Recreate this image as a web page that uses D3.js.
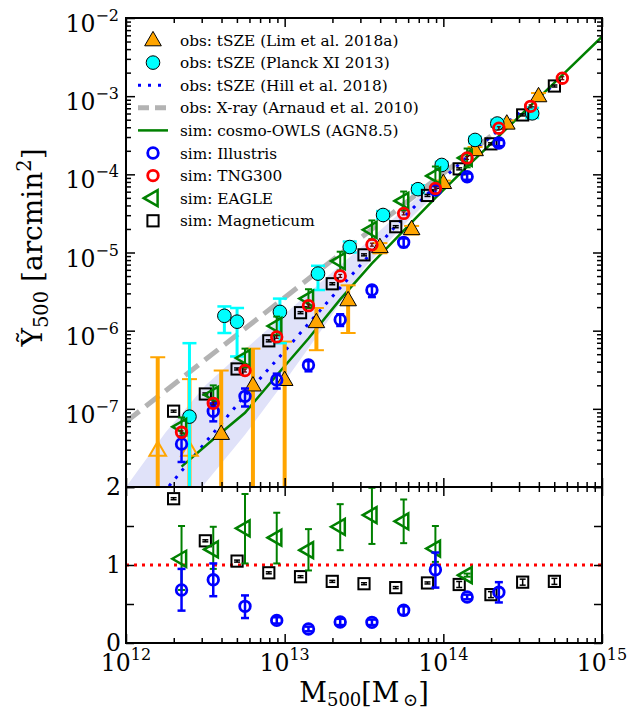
<!DOCTYPE html>
<html>
<head>
<meta charset="utf-8">
<script src="https://cdn.jsdelivr.net/npm/d3@7"></script>
<style>
  body { margin: 0; background: #fff; }
  svg text { font-family: "DejaVu Serif", serif; fill: #000; }
</style>
</head>
<body>
<div id="chart"></div>
<script>
// values: masses as log10(M500/Msun), Y500 as log10(arcmin^2)

// obs: tSZE (Lim et al. 2018a)
const limLogM = [12.2, 12.4, 12.6, 12.8, 13.0, 13.2, 13.4, 13.6, 13.8, 14.0, 14.2, 14.4, 14.6];
const limLogY = [-7.54, -7.54, -7.33, -6.71, -6.64, -5.90, -5.62, -4.94, -4.71, -4.12, -3.70, -3.36, -3.01];
const limHi   = [-6.34, -6.62, -6.51, -6.23, -6.14, -5.71, -5.42, -4.88, -4.66, -4.08, -3.65, -3.31, -2.96];
const limLo   = [-9, -9, -9, -9, -9, -6.25, -6.03, -5.01, -4.77, -4.17, -3.75, -3.41, -3.06];
const limOpen = [true, true, false, false, false, false, false, false, false, false, false, false, false];

// obs: tSZE (Planck XI 2013)
const planckLogM = [12.40, 12.62, 12.70, 12.97, 13.21, 13.41, 13.62, 13.84, 13.99, 14.20, 14.34, 14.56];
const planckLogY = [-7.10, -5.81, -5.885, -5.76, -5.27, -4.93, -4.52, -4.19, -3.88, -3.56, -3.35, -3.22];
const planckHi   = [-6.16, -5.69, -5.71, -5.59, -5.17, -4.86, -4.47, -4.14, -3.84, -3.52, -3.30, -3.15];
const planckLo   = [-9, -6.03, -6.33, -6.16, -5.48, -5.00, -4.57, -4.24, -3.93, -3.60, -3.39, -3.28];

// obs: tSZE (Hill et al. 2018) + band
const hillLogM = [12.2, 12.25, 12.5, 12.75, 13.0, 13.25, 13.5, 13.75, 14.0, 14.25, 14.5, 14.7];
const hillLogY = [-8.2, -8.04, -7.43, -6.83, -6.26, -5.68, -5.11, -4.55, -4.05, -3.60, -3.18, -2.85];
const bandLogM = [12.0, 12.25, 12.5, 12.75, 13.0, 13.25, 13.5, 13.75, 14.0];
const bandHi   = [-8.0, -7.30, -6.70, -6.24, -5.79, -5.34, -4.90, -4.45, -4.00];
const bandLo   = [-9.5, -8.80, -7.95, -7.33, -6.65, -5.94, -5.20, -4.65, -4.15];

// obs: X-ray (Arnaud et al. 2010)
const arnaudLogM = [12.0, 14.3];
const arnaudLogY = [-7.165, -3.51];

// sim: cosmo-OWLS (AGN8.5)
const owlsLogM = [12.35, 12.55, 12.75, 12.95, 13.15, 13.35, 13.55, 13.75, 13.95, 14.15, 14.35, 14.55, 14.75, 15.0];
const owlsLogY = [-7.74, -7.39, -7.05, -6.57, -6.10, -5.60, -5.14, -4.72, -4.30, -3.90, -3.51, -3.12, -2.73, -2.24];

// sim: Illustris
const illLogM = [12.35, 12.55, 12.75, 12.95, 13.15, 13.35, 13.55, 13.75, 13.95, 14.15, 14.35];
const illLogY = [-7.45, -7.03, -6.84, -6.63, -6.44, -5.86, -5.48, -4.87, -4.20, -4.03, -3.60];
const illHi   = [-7.36, -6.93, -6.74, -6.55, -6.39, -5.79, -5.43, -4.82, -4.15, -3.99, -3.56];
const illLo   = [-7.68, -7.16, -6.97, -6.74, -6.52, -5.94, -5.57, -4.93, -4.25, -4.07, -3.64];

// sim: TNG300
const tngLogM = [12.35, 12.55, 12.75, 12.95, 13.15, 13.35, 13.55, 13.75, 13.95, 14.15, 14.35, 14.55, 14.75];
const tngLogY = [-7.30, -6.93, -6.51, -6.08, -5.68, -5.30, -4.90, -4.50, -4.18, -3.79, -3.41, -3.13, -2.77];

// sim: EAGLE
const eagleLogM = [12.35, 12.55, 12.75, 12.95, 13.15, 13.35, 13.55, 13.75, 13.95, 14.15];
const eagleLogY = [-7.23, -6.82, -6.35, -5.94, -5.59, -5.11, -4.71, -4.34, -4.02, -3.79];

// sim: Magneticum
const magLogM = [12.3, 12.5, 12.7, 12.9, 13.1, 13.3, 13.5, 13.7, 13.9, 14.1, 14.3, 14.5, 14.7];
const magLogY = [-7.03, -6.81, -6.49, -6.13, -5.77, -5.40, -5.03, -4.67, -4.27, -3.93, -3.61, -3.24, -2.87];

// ratio panel
const magRatio   = [1.85, 1.31, 1.05, 0.90, 0.85, 0.79, 0.76, 0.71, 0.77, 0.75, 0.62, 0.78, 0.79];
const illRatio   = [0.68, 0.81, 0.47, 0.29, 0.18, 0.27, 0.265, 0.42, 0.94, 0.59, 0.65];
const illRatioHi = [0.95, 1.02, 0.61, 0.33, 0.21, 0.31, 0.30, 0.47, 1.16, 0.62, 0.78];
const illRatioLo = [0.415, 0.60, 0.32, 0.25, 0.15, 0.23, 0.23, 0.36, 0.71, 0.56, 0.52];
const eagleRatio   = [1.08, 1.20, 1.47, 1.35, 1.19, 1.49, 1.64, 1.56, 1.21, 0.87];
const eagleRatioHi = [1.50, 1.49, 1.91, 1.67, 1.46, 1.78, 1.99, 1.84, 1.50, 0.89];
const eagleRatioLo = [0.68, 0.95, 1.02, 1.02, 0.93, 1.19, 1.27, 1.28, 1.04, 0.85];

const xMajor = [1e12, 1e13, 1e14, 1e15];
const yMajor = [1e-8, 1e-7, 1e-6, 1e-5, 1e-4, 1e-3, 1e-2];
const yLabelExp = [-7, -6, -5, -4, -3, -2];
const xLabelExp = [12, 13, 14, 15];
const ratioTicks = [0, 0.5, 1, 1.5, 2];
const ratioLabels = [0, 1, 2];

const legendItems = [
  {kind: 'lim',    label: 'obs: tSZE (Lim et al. 2018a)'},
  {kind: 'planck', label: 'obs: tSZE (Planck XI 2013)'},
  {kind: 'hill',   label: 'obs: tSZE (Hill et al. 2018)'},
  {kind: 'arnaud', label: 'obs: X-ray (Arnaud et al. 2010)'},
  {kind: 'owls',   label: 'sim: cosmo-OWLS (AGN8.5)'},
  {kind: 'ill',    label: 'sim: Illustris'},
  {kind: 'tng',    label: 'sim: TNG300'},
  {kind: 'eagle',  label: 'sim: EAGLE'},
  {kind: 'mag',    label: 'sim: Magneticum'}
];

const W = 637, H = 712;
const X0 = 126, X1 = 602, T0 = 18, T1 = 487, B1 = 643;
const p10 = v => Math.pow(10, v);

const x = d3.scaleLog().domain([1e12, 1e15]).range([X0, X1]);
const y = d3.scaleLog().domain([1e-8, 1e-2]).range([T1, T0]);
const yr = d3.scaleLinear().domain([0, 2]).range([B1, T1]);

const svg = d3.select('#chart').append('svg').attr('width', W).attr('height', H);
const defs = svg.append('defs');
defs.append('clipPath').attr('id', 'clipTop').append('rect')
  .attr('x', X0).attr('y', T0).attr('width', X1 - X0).attr('height', T1 - T0);
defs.append('clipPath').attr('id', 'clipBot').append('rect')
  .attr('x', X0).attr('y', T1).attr('width', X1 - X0).attr('height', B1 - T1);

const gTop = svg.append('g').attr('clip-path', 'url(#clipTop)');
const gBot = svg.append('g').attr('clip-path', 'url(#clipBot)');

// marker helpers
const triUp = d3.symbol().type(d3.symbolTriangle).size(120);
const triLeft = d3.symbol().type(d3.symbolTriangle).size(110);

function mLim(g, cx, cy, open) {
  g.append('path').attr('d', triUp()).attr('transform', `translate(${cx},${cy})`)
    .attr('fill', open ? 'none' : 'orange')
    .attr('stroke', open ? 'orange' : '#000')
    .attr('stroke-width', open ? 2 : 1);
}
function mPlanck(g, cx, cy) {
  g.append('circle').attr('cx', cx).attr('cy', cy).attr('r', 6.8)
    .attr('fill', 'cyan').attr('stroke', '#000').attr('stroke-width', 1);
}
function mRing(g, cx, cy, color) {
  g.append('circle').attr('cx', cx).attr('cy', cy).attr('r', 5.3)
    .attr('fill', 'none').attr('stroke', color).attr('stroke-width', 2.8);
}
function mEagle(g, cx, cy) {
  g.append('path').attr('d', triLeft()).attr('transform', `translate(${cx},${cy}) rotate(-90)`)
    .attr('fill', 'none').attr('stroke', 'green').attr('stroke-width', 2.5);
}
function mSquare(g, cx, cy) {
  g.append('rect').attr('x', cx - 5.6).attr('y', cy - 5.6).attr('width', 11.2).attr('height', 11.2)
    .attr('fill', 'none').attr('stroke', '#000').attr('stroke-width', 2);
}
function errBar(g, cx, yLo, yHi, color, w, capW, capT) {
  g.append('line').attr('x1', cx).attr('x2', cx).attr('y1', yLo).attr('y2', yHi)
    .attr('stroke', color).attr('stroke-width', w);
  [yLo, yHi].forEach(v => g.append('line')
    .attr('x1', cx - capW / 2).attr('x2', cx + capW / 2).attr('y1', v).attr('y2', v)
    .attr('stroke', color).attr('stroke-width', capT));
}

// ---- top panel ----
const area = d3.area().x((d, i) => x(p10(bandLogM[i])))
  .y0((d, i) => y(p10(bandLo[i]))).y1((d, i) => y(p10(bandHi[i])));
gTop.append('path').attr('d', area(bandLogM)).attr('fill', '#e0e2f9');

const line = d3.line().x(d => x(p10(d[0]))).y(d => y(p10(d[1])));
gTop.append('path').attr('d', line(d3.zip(arnaudLogM, arnaudLogY)))
  .attr('fill', 'none').attr('stroke', '#b3b3b3').attr('stroke-width', 5).attr('stroke-dasharray', '17,8');
gTop.append('path').attr('d', line(d3.zip(hillLogM, hillLogY)))
  .attr('fill', 'none').attr('stroke', 'blue').attr('stroke-width', 3).attr('stroke-dasharray', '3,7');
gTop.append('path').attr('d', line(d3.zip(owlsLogM, owlsLogY)))
  .attr('fill', 'none').attr('stroke', 'green').attr('stroke-width', 2.5);

limLogM.forEach((m, i) => errBar(gTop, x(p10(m)), y(p10(limLo[i])), y(p10(limHi[i])), 'orange', 4, 15, 2));
limLogM.forEach((m, i) => mLim(gTop, x(p10(m)), y(p10(limLogY[i])), limOpen[i]));

planckLogM.forEach((m, i) => errBar(gTop, x(p10(m)), y(p10(planckLo[i])), y(p10(planckHi[i])), 'cyan', 3, 14, 2.5));
planckLogM.forEach((m, i) => mPlanck(gTop, x(p10(m)), y(p10(planckLogY[i]))));

magLogM.forEach((m, i) => {
  const cx = x(p10(m)), cy = y(p10(magLogY[i]));
  mSquare(gTop, cx, cy);
  errBar(gTop, cx, cy + 1, cy - 1, '#000', 1.5, 6, 1.5);
});
eagleLogM.forEach((m, i) => {
  const cx = x(p10(m));
  errBar(gTop, cx, y(p10(eagleLogY[i] - 0.12)), y(p10(eagleLogY[i] + 0.12)), 'green', 2, 7, 2);
  mEagle(gTop, cx, y(p10(eagleLogY[i])));
});
illLogM.forEach((m, i) => {
  const cx = x(p10(m));
  errBar(gTop, cx, y(p10(illLo[i])), y(p10(illHi[i])), 'blue', 2.5, 8, 2.5);
  mRing(gTop, cx, y(p10(illLogY[i])), 'blue');
});
tngLogM.forEach((m, i) => {
  const cx = x(p10(m)), cy = y(p10(tngLogY[i]));
  mRing(gTop, cx, cy, 'red');
  errBar(gTop, cx, cy + 1.5, cy - 1.5, '#600', 1.5, 4, 1.2);
});

// ---- ratio panel ----
gBot.append('line').attr('x1', X0).attr('x2', X1).attr('y1', yr(1)).attr('y2', yr(1))
  .attr('stroke', 'red').attr('stroke-width', 3).attr('stroke-dasharray', '3,5');
magLogM.forEach((m, i) => {
  const cx = x(p10(m)), cy = yr(magRatio[i]);
  mSquare(gBot, cx, cy);
  errBar(gBot, cx, cy + (i > 8 ? 3 : 1), cy - (i > 8 ? 3 : 1), '#000', 1.5, 6, 1.5);
});
eagleLogM.forEach((m, i) => {
  const cx = x(p10(m));
  errBar(gBot, cx, yr(eagleRatioLo[i]), yr(eagleRatioHi[i]), 'green', 2, 7, 2);
  mEagle(gBot, cx, yr(eagleRatio[i]));
});
illLogM.forEach((m, i) => {
  const cx = x(p10(m));
  errBar(gBot, cx, yr(illRatioLo[i]), yr(illRatioHi[i]), 'blue', 2.5, 8, 2.5);
  mRing(gBot, cx, yr(illRatio[i]), 'blue');
});

// ---- axes & ticks ----
const xMinor = [];
[12, 13, 14].forEach(k => d3.range(2, 10).forEach(m => xMinor.push(m * p10(k))));
const yMinor = [];
[-8, -7, -6, -5, -4, -3].forEach(k => d3.range(2, 10).forEach(m => yMinor.push(m * p10(k))));

function ticks(axisFn, scale, vals, len, tx, ty) {
  const g = svg.append('g').attr('transform', `translate(${tx},${ty})`)
    .call(axisFn(scale).tickValues(vals).tickSize(-len).tickFormat(''));
  g.select('.domain').remove();
  g.selectAll('line').attr('stroke', '#000').attr('stroke-width', 1.5);
}
[[T1, d3.axisBottom], [T0, d3.axisTop], [B1, d3.axisBottom], [T1, d3.axisTop]].forEach(([ty, f]) => {
  ticks(f, x, xMajor, 9, 0, ty);
  ticks(f, x, xMinor, 5, 0, ty);
});
[[X0, d3.axisLeft], [X1, d3.axisRight]].forEach(([tx, f]) => {
  ticks(f, y, yMajor, 9, tx, 0);
  ticks(f, y, yMinor, 5, tx, 0);
  ticks(f, yr, ratioTicks, 8, tx, 0);
});

svg.append('rect').attr('x', X0).attr('y', T0).attr('width', X1 - X0).attr('height', T1 - T0)
  .attr('fill', 'none').attr('stroke', '#000').attr('stroke-width', 2);
svg.append('rect').attr('x', X0).attr('y', T1).attr('width', X1 - X0).attr('height', B1 - T1)
  .attr('fill', 'none').attr('stroke', '#000').attr('stroke-width', 2);

function powLabel(px, py, exp, anchor) {
  const t = svg.append('text').attr('x', px).attr('y', py).attr('text-anchor', anchor).attr('font-size', 23.5);
  t.append('tspan').text('10');
  t.append('tspan').attr('dy', -11).attr('font-size', 16).text(String(exp).replace('-', '\u2212'));
}
yLabelExp.forEach(e => powLabel(119, y(p10(e)) + 14, e, 'end'));
xLabelExp.forEach(e => powLabel(x(p10(e)), 671, e, 'middle'));
ratioLabels.forEach(v => svg.append('text').attr('x', 121).attr('y', yr(v) + 8)
  .attr('text-anchor', 'end').attr('font-size', 23.5).text(v));

// axis titles
const xt = svg.append('text').attr('x', (X0 + X1) / 2).attr('y', 702).attr('text-anchor', 'middle').attr('font-size', 27);
xt.append('tspan').text('M');
xt.append('tspan').attr('dy', 4).attr('font-size', 18).text('500');
xt.append('tspan').attr('dy', -4).text('[M');
xt.append('tspan').attr('dy', 4).attr('font-size', 18).text('\u2009\u2299');
xt.append('tspan').attr('dy', -4).text(']');

const yt = svg.append('text').attr('transform', `translate(42,${(T0 + T1) / 2 - 5}) rotate(-90)`)
  .attr('text-anchor', 'middle').attr('font-size', 28);
yt.append('tspan').text('\u1EF8');
yt.append('tspan').attr('dy', 6).attr('font-size', 19.5).text('500');
yt.append('tspan').attr('dy', -6).text(' [arcmin');
yt.append('tspan').attr('dy', -11).attr('font-size', 19.5).text('2');
yt.append('tspan').attr('dy', 11).text(']');

// ---- legend ----
const leg = svg.append('g');
legendItems.forEach((it, i) => {
  const cy = 40 + i * 22.6, cx = 153;
  if (it.kind === 'lim') mLim(leg, cx, cy + 1, false);
  if (it.kind === 'planck') mPlanck(leg, cx, cy);
  if (it.kind === 'ill') mRing(leg, cx, cy, 'blue');
  if (it.kind === 'tng') mRing(leg, cx, cy, 'red');
  if (it.kind === 'eagle') mEagle(leg, cx, cy);
  if (it.kind === 'mag') mSquare(leg, cx, cy);
  const seg = leg.append('line').attr('x1', 138).attr('x2', 168).attr('y1', cy).attr('y2', cy).attr('fill', 'none');
  if (it.kind === 'hill') seg.attr('stroke', 'blue').attr('stroke-width', 3).attr('stroke-dasharray', '3,7');
  if (it.kind === 'arnaud') seg.attr('stroke', '#b3b3b3').attr('stroke-width', 5).attr('stroke-dasharray', '11,6');
  if (it.kind === 'owls') seg.attr('stroke', 'green').attr('stroke-width', 2.5);
  leg.append('text').attr('x', 180).attr('y', cy + 5.5).attr('font-size', 15.3).text(it.label);
});
</script>
</body>
</html>
